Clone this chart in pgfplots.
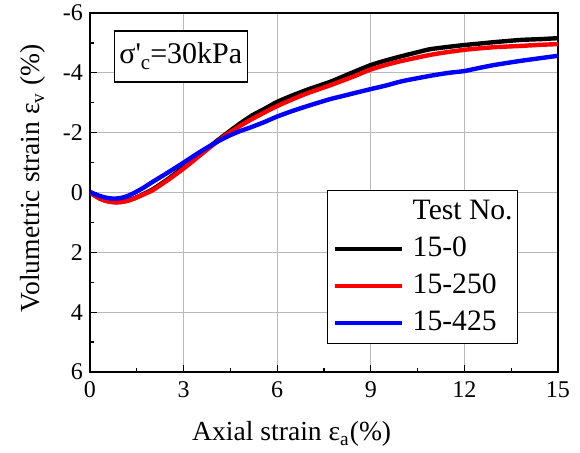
\documentclass[border=0pt]{standalone}
\usepackage{pgfplots}
\pgfplotsset{compat=1.18}
\usepackage{fontspec}
\setmainfont{Liberation Serif}
\begin{document}
\begin{tikzpicture}
\useasboundingbox (-45pt,-40pt) rectangle (245pt,186pt);
\begin{axis}[
    at={(0,0)}, anchor=south west,
    scale only axis, width=234pt, height=179.5pt,
    xmin=0, xmax=15, ymin=-6, ymax=6, y dir=reverse,
    xtick={0,3,...,15}, ytick={-6,-4,...,6},
    minor x tick num=1, minor y tick num=1,
    tick pos=left,
    major tick length=3.5pt, minor tick length=2pt,
    tick style={black, line width=0.6pt},
    grid=major, major grid style={gray!55, line width=0.5pt},
    axis line style={line width=0.75pt},
    /pgf/number format/assume math mode=true,
    ticklabel style={font=\fontsize{12}{14}\selectfont},
    xticklabel style={yshift=-1.2pt},
    xlabel={Axial strain ε\textsubscript{a}(\%)},
    ylabel={Volumetric strain ε\textsubscript{v} (\%)},
    label style={font=\fontsize{13.8}{16}\selectfont},
    xlabel style={at={(axis description cs:0.431,-0.192)}, anchor=base},
    ylabel style={at={(axis description cs:-0.107,0.54)}, anchor=base},
    legend image code/.code={\draw[#1, line width=2pt] (0pt,0pt) -- (33.5pt,0pt);},
    legend cell align=left,
    legend style={at={(0.915,0.507)}, anchor=north east, draw=black, line width=0.6pt,
        fill=white, font=\fontsize{14.8}{17}\selectfont,
        inner xsep=2.5pt, inner ysep=3.5pt, row sep=4.5pt,
        nodes={inner sep=0pt, text height=11pt, text depth=3pt},
        /tikz/every odd column/.append style={column sep=4.5pt}},
    every axis plot/.append style={line width=2.2pt, line join=round, no markers, smooth, tension=0.4},
]
\addlegendimage{empty legend}
\addlegendentry{Test No.}
% 15-0
\addplot[black] coordinates {
    (0,0) (0.15,0.1) (0.3,0.19) (0.5,0.27) (0.7,0.31) (0.85,0.32) (1.0,0.31) (1.2,0.27)
    (1.4,0.2) (1.6,0.11) (1.85,-0.02) (2.0,-0.1) (2.5,-0.45) (3.0,-0.85) (3.5,-1.25)
    (4.0,-1.67) (4.4,-1.99) (4.8,-2.3) (5.2,-2.58) (5.6,-2.8) (6.0,-3.03) (6.5,-3.25)
    (7.0,-3.45) (7.7,-3.7) (8.0,-3.83) (8.5,-4.05) (9.0,-4.26) (9.5,-4.42)
    (10.0,-4.56) (10.5,-4.69) (10.9,-4.79) (11.5,-4.87) (12.0,-4.93) (12.5,-4.98)
    (13.0,-5.03) (13.8,-5.1) (14.5,-5.13) (15.0,-5.16)
};
\addlegendentry{15-0}
% 15-250
\addplot[red] coordinates {
    (0,0) (0.15,0.1) (0.3,0.2) (0.5,0.28) (0.7,0.32) (0.85,0.33) (1.0,0.32) (1.2,0.28)
    (1.4,0.21) (1.6,0.12) (1.86,0) (2.0,-0.07) (2.5,-0.42) (3.0,-0.8) (3.5,-1.22)
    (4.0,-1.64) (4.4,-1.95) (4.8,-2.22) (5.13,-2.42) (5.6,-2.68) (6.0,-2.89) (6.5,-3.12)
    (7.0,-3.33) (7.69,-3.58) (8.0,-3.7) (8.5,-3.9) (8.97,-4.1) (9.5,-4.27)
    (10.0,-4.4) (10.9,-4.6) (11.5,-4.7) (12.0,-4.77) (12.5,-4.82)
    (13.0,-4.86) (13.8,-4.9) (14.5,-4.94) (15.0,-4.96)
};
\addlegendentry{15-250}
% 15-425
\addplot[blue] coordinates {
    (0,-0.02) (0.15,0.05) (0.3,0.11) (0.5,0.17) (0.7,0.2) (0.85,0.2) (1.0,0.18) (1.2,0.12)
    (1.44,0) (1.7,-0.15) (2.0,-0.35) (2.5,-0.67) (3.0,-1.0) (3.53,-1.36)
    (4.0,-1.65) (4.4,-1.87) (4.8,-2.05) (5.13,-2.17) (5.6,-2.36) (6.0,-2.54) (6.5,-2.73)
    (7.0,-2.9) (7.69,-3.12) (8.0,-3.2) (8.5,-3.33) (8.97,-3.45) (9.5,-3.58)
    (10.0,-3.72) (10.9,-3.9) (11.5,-4.0) (12.0,-4.06) (12.5,-4.17)
    (13.0,-4.27) (13.8,-4.4) (14.5,-4.5) (15.0,-4.57)
};
\addlegendentry{15-425}
\node[draw=black, line width=0.6pt, fill=white, font=\fontsize{15}{18}\selectfont,
    inner xsep=2.5pt, minimum height=25.5pt]
    at (axis description cs:0.194,0.879)
    {σ\textquotesingle\raisebox{-0.45ex}{\fontsize{10.5}{12}\selectfont c}=30kPa};
\end{axis}
\end{tikzpicture}
\end{document}
